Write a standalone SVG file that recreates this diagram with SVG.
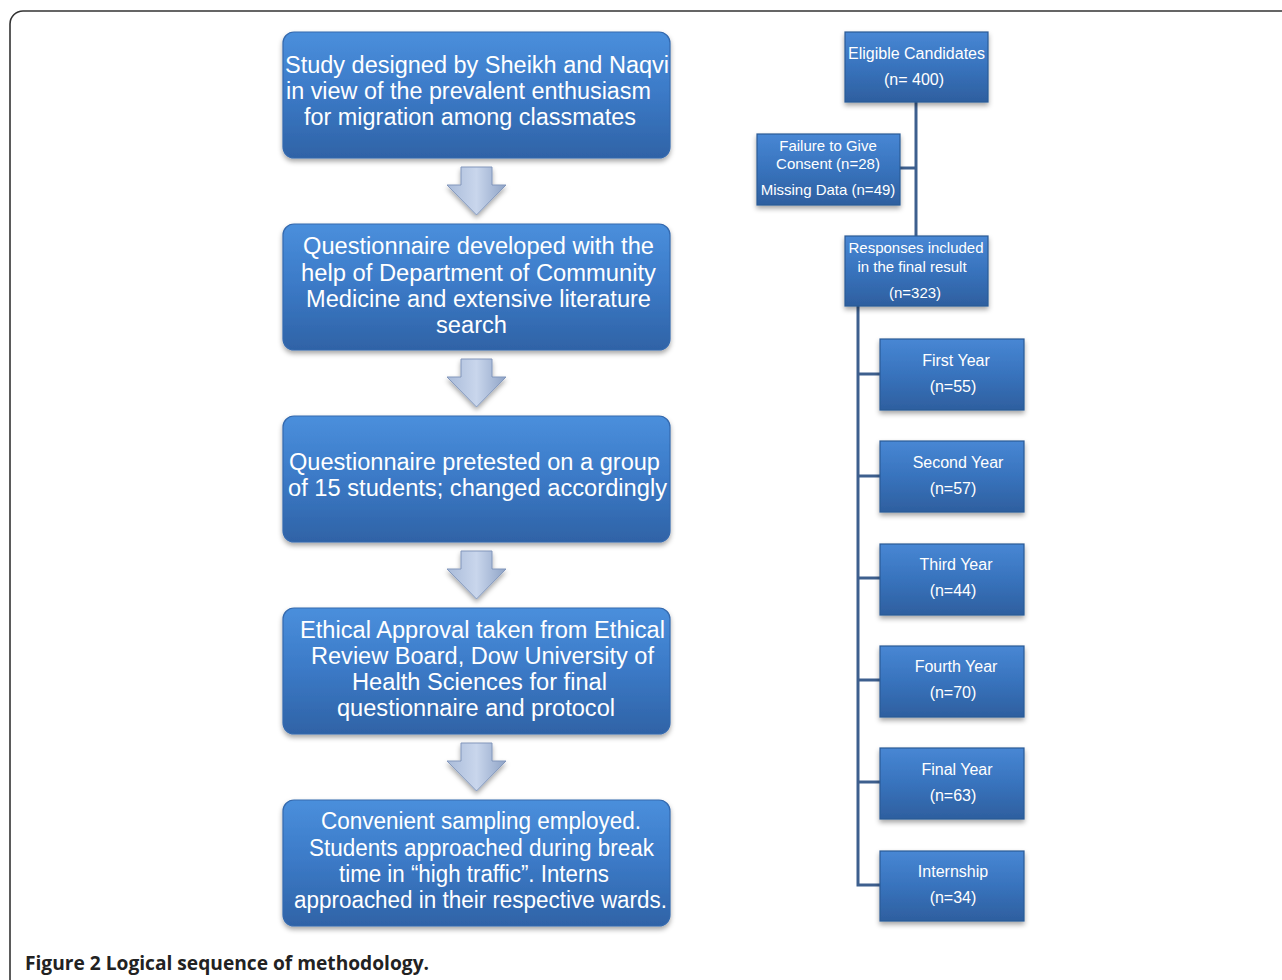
<svg xmlns="http://www.w3.org/2000/svg" width="1282" height="980" viewBox="0 0 1282 980">
<defs>
<linearGradient id="gBig" x1="0" y1="0" x2="0" y2="1">
<stop offset="0" stop-color="#4a8fdc"/>
<stop offset="0.5" stop-color="#3b79c6"/>
<stop offset="1" stop-color="#2f63a6"/>
</linearGradient>
<linearGradient id="gSm" x1="0" y1="0" x2="0" y2="1">
<stop offset="0" stop-color="#4887d4"/>
<stop offset="0.5" stop-color="#3873bd"/>
<stop offset="1" stop-color="#2e5f9f"/>
</linearGradient>
<linearGradient id="gArr" x1="0" y1="0" x2="1" y2="0">
<stop offset="0" stop-color="#a9bbd9"/>
<stop offset="0.5" stop-color="#c9d6ec"/>
<stop offset="1" stop-color="#8ea3c6"/>
</linearGradient>
<filter id="sh" x="-10%" y="-10%" width="120%" height="130%">
<feDropShadow dx="0" dy="3" stdDeviation="2.5" flood-color="#000" flood-opacity="0.35"/>
</filter>
<style>
.big{fill:url(#gBig);stroke:#3469ae;stroke-width:1.2;filter:url(#sh)}
.sm{fill:url(#gSm);stroke:#2b5a96;stroke-width:1.2;filter:url(#sh)}
.arr{fill:url(#gArr);stroke:#8196bb;stroke-width:1;filter:url(#sh)}
.tb{font-family:"Liberation Sans",Arial,sans-serif;font-size:23.5px;fill:#fff}
.ts{font-family:"Liberation Sans",Arial,sans-serif;font-size:16px;fill:#fff;text-anchor:middle}
.tf{font-family:"Liberation Sans",Arial,sans-serif;font-size:15px;fill:#fff;text-anchor:middle}
.con{fill:none;stroke:#3d5f8e;stroke-width:3}
</style>
</defs>
<rect width="1282" height="980" fill="#fff"/>
<path d="M10,980 V24 A13 13 0 0 1 23 11 H1282" fill="none" stroke="#333" stroke-width="1.6"/>

<g id="connectors">
<path class="arr" d="M461,167 H492 V185 H506 L476.5,215 L447,185 H461 Z"/>
<path class="arr" d="M461,359 H492 V377 H506 L476.5,407 L447,377 H461 Z"/>
<path class="arr" d="M461,551 H492 V569 H506 L476.5,599 L447,569 H461 Z"/>
<path class="arr" d="M461,743 H492 V761 H506 L476.5,791 L447,761 H461 Z"/>
<path class="con" d="M916,102 V236"/>
<path class="con" d="M900,168 H916"/>
<path class="con" d="M858,306 V885 H880"/>
<path class="con" d="M858,374 H880"/>
<path class="con" d="M858,476 H880"/>
<path class="con" d="M858,578 H880"/>
<path class="con" d="M858,680 H880"/>
<path class="con" d="M858,782 H880"/>
</g>

<g id="n1"><rect class="big" x="283" y="32" width="387" height="126" rx="11"/>
<text class="tb" x="285" y="73" textLength="384" lengthAdjust="spacingAndGlyphs">Study designed by Sheikh and Naqvi</text>
<text class="tb" x="286" y="99" textLength="365" lengthAdjust="spacingAndGlyphs">in view of the prevalent enthusiasm</text>
<text class="tb" x="304" y="125" textLength="332" lengthAdjust="spacingAndGlyphs">for migration among classmates</text></g>

<g id="n2"><rect class="big" x="283" y="224" width="387" height="126" rx="11"/>
<text class="tb" x="303" y="254" textLength="351" lengthAdjust="spacingAndGlyphs">Questionnaire developed with the</text>
<text class="tb" x="301" y="281" textLength="355" lengthAdjust="spacingAndGlyphs">help of Department of Community</text>
<text class="tb" x="306" y="307" textLength="345" lengthAdjust="spacingAndGlyphs">Medicine and extensive literature</text>
<text class="tb" x="436" y="333" textLength="71" lengthAdjust="spacingAndGlyphs">search</text></g>

<g id="n3"><rect class="big" x="283" y="416" width="387" height="126" rx="11"/>
<text class="tb" x="289" y="470" textLength="371" lengthAdjust="spacingAndGlyphs">Questionnaire pretested on a group</text>
<text class="tb" x="288" y="496" textLength="379" lengthAdjust="spacingAndGlyphs">of 15 students; changed accordingly</text></g>

<g id="n4"><rect class="big" x="283" y="608" width="387" height="126" rx="11"/>
<text class="tb" x="300" y="638" textLength="365" lengthAdjust="spacingAndGlyphs">Ethical Approval taken from Ethical</text>
<text class="tb" x="311" y="664" textLength="343" lengthAdjust="spacingAndGlyphs">Review Board, Dow University of</text>
<text class="tb" x="352" y="690" textLength="255" lengthAdjust="spacingAndGlyphs">Health Sciences for final</text>
<text class="tb" x="337" y="716" textLength="278" lengthAdjust="spacingAndGlyphs">questionnaire and protocol</text></g>

<g id="n5"><rect class="big" x="283" y="800" width="387" height="126" rx="11"/>
<text class="tb" x="321" y="829" textLength="320" lengthAdjust="spacingAndGlyphs">Convenient sampling employed.</text>
<text class="tb" x="309" y="856" textLength="345" lengthAdjust="spacingAndGlyphs">Students approached during break</text>
<text class="tb" x="339" y="882" textLength="270" lengthAdjust="spacingAndGlyphs">time in “high traffic”. Interns</text>
<text class="tb" x="294" y="908" textLength="373" lengthAdjust="spacingAndGlyphs">approached in their respective wards.</text></g>

<g id="eligible"><rect class="sm" x="845" y="32" width="143" height="70"/>
<text class="ts" x="916.5" y="59">Eligible Candidates</text>
<text class="ts" x="914" y="85">(n= 400)</text></g>

<g id="excluded"><rect class="sm" x="757" y="134" width="143" height="71"/>
<text class="tf" x="828" y="151">Failure to Give</text>
<text class="tf" x="828" y="169">Consent (n=28)</text>
<text class="tf" x="828" y="195">Missing Data (n=49)</text></g>

<g id="responses"><rect class="sm" x="845" y="236" width="143" height="70"/>
<text class="tf" x="916" y="253">Responses included</text>
<text class="tf" x="912" y="272">in the final result</text>
<text class="tf" x="915" y="298">(n=323)</text></g>

<g id="y1"><rect class="sm" x="880" y="339" width="144" height="71"/>
<text class="ts" x="956" y="366">First Year</text>
<text class="ts" x="953" y="392">(n=55)</text></g>

<g id="y2"><rect class="sm" x="880" y="441" width="144" height="71"/>
<text class="ts" x="958" y="468">Second Year</text>
<text class="ts" x="953" y="494">(n=57)</text></g>

<g id="y3"><rect class="sm" x="880" y="544" width="144" height="71"/>
<text class="ts" x="956" y="570">Third Year</text>
<text class="ts" x="953" y="596">(n=44)</text></g>

<g id="y4"><rect class="sm" x="880" y="646" width="144" height="71"/>
<text class="ts" x="956" y="672">Fourth Year</text>
<text class="ts" x="953" y="698">(n=70)</text></g>

<g id="y5"><rect class="sm" x="880" y="748" width="144" height="71"/>
<text class="ts" x="957" y="775">Final Year</text>
<text class="ts" x="953" y="801">(n=63)</text></g>

<g id="y6"><rect class="sm" x="880" y="851" width="144" height="70"/>
<text class="ts" x="953" y="877">Internship</text>
<text class="ts" x="953" y="903">(n=34)</text></g>

<text x="25" y="970" font-family="'Open Sans','Liberation Sans',sans-serif" font-size="19" font-weight="bold" fill="#222" textLength="404" lengthAdjust="spacingAndGlyphs">Figure 2 Logical sequence of methodology.</text>
</svg>
